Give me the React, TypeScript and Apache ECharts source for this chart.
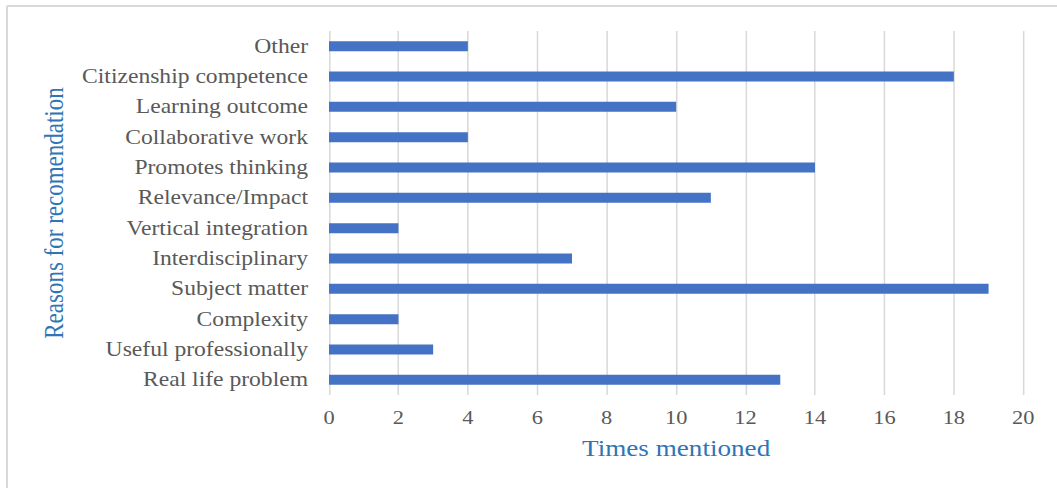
import React, { useEffect, useRef } from "react";
import * as echarts from "echarts";

const categories = [
  "Other",
  "Citizenship competence",
  "Learning outcome",
  "Collaborative work",
  "Promotes thinking",
  "Relevance/Impact",
  "Vertical integration",
  "Interdisciplinary",
  "Subject matter",
  "Complexity",
  "Useful professionally",
  "Real life problem",
];
const timesMentioned = [4, 18, 10, 4, 14, 11, 2, 7, 19, 2, 3, 13];
const xAxisName = "Times mentioned";
const yAxisName = "Reasons for recomendation";

const FONT = "'Liberation Serif', 'Times New Roman', serif";
const S = 1.18; // horizontal stretch of the reference picture
const W = 1057 / S;
const H = 488;
const gx = (x: number) => x / S;

export default function App() {
  const ref = useRef<HTMLDivElement>(null);
  useEffect(() => {
    if (!ref.current) return;
    const chart = echarts.init(ref.current, null, { renderer: "svg" });
    chart.setOption({
      animation: false,
      backgroundColor: "#ffffff",
      grid: { left: gx(329), right: W - gx(1023), top: 31, bottom: 93, containLabel: false },
      graphic: [
        {
          type: "line",
          shape: { x1: gx(7), y1: 6, x2: W, y2: 6 },
          style: { stroke: "#d9d9d9", lineWidth: 2 },
        },
        {
          type: "line",
          shape: { x1: gx(7), y1: 6, x2: gx(7), y2: H },
          style: { stroke: "#d9d9d9", lineWidth: 1.7 },
        },
      ],
      xAxis: {
        type: "value",
        min: 0,
        max: 20,
        interval: 2,
        name: xAxisName,
        nameLocation: "middle",
        nameGap: 42,
        nameTextStyle: { color: "#2e75b6", fontFamily: FONT, fontSize: 23 },
        axisLine: { show: false },
        axisTick: { show: false },
        axisLabel: { color: "#595959", fontFamily: FONT, fontSize: 19, margin: 13 },
        splitLine: { show: true, lineStyle: { color: "#d9d9d9", width: 1.3 } },
      },
      yAxis: {
        type: "category",
        data: categories,
        inverse: true,
        name: yAxisName,
        nameLocation: "middle",
        nameGap: gx(329) - gx(67),
        nameRotate: 90,
        nameTextStyle: { color: "#2e75b6", fontFamily: FONT, fontSize: 23 },
        axisLine: { show: false },
        axisTick: { show: false },
        axisLabel: { color: "#595959", fontFamily: FONT, fontSize: 20, margin: gx(329) - gx(308) },
        splitLine: { show: false },
      },
      series: [
        {
          type: "bar",
          data: timesMentioned,
          barWidth: 10,
          itemStyle: { color: "#4472c4" },
        },
      ],
    });
    return () => chart.dispose();
  }, []);
  return (
    <div
      ref={ref}
      style={{
        position: "fixed",
        left: 0,
        top: 0,
        width: W,
        height: H,
        transform: `scaleX(${S})`,
        transformOrigin: "0 0",
      }}
    />
  );
}
